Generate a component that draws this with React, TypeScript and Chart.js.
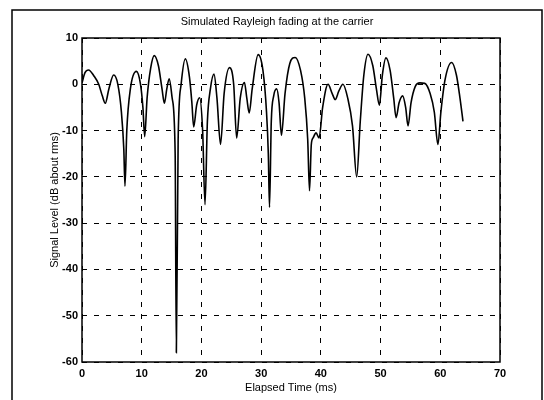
import React, { useEffect, useRef } from "react";
import { Chart, registerables } from "chart.js";

Chart.register(...registerables);

const TITLE = "Simulated Rayleigh fading at the carrier";
const X_LABEL = "Elapsed Time (ms)";
const Y_LABEL = "Signal Level (dB about rms)";
const X_MIN = 0;
const X_MAX = 70;
const Y_MIN = -60;
const Y_MAX = 10;
const STEP = 10;

const times = [
  0, 0.5, 1.1, 2.0, 2.8, 3.4, 3.9, 4.5, 5.3, 6.0, 6.6, 7.0, 7.2, 7.5, 8.1, 9.1, 9.8, 10.2, 10.5, 10.9,
  11.5, 12.1, 12.8, 13.4, 13.8, 14.2, 14.6, 15.1, 15.6, 15.8, 16.1, 16.6, 17.3, 18.0, 18.4, 18.7, 19.2, 19.7,
  20.2, 20.6, 21.0, 21.5, 22.1, 22.6, 23.2, 23.8, 24.7, 25.4, 25.9, 26.5, 27.2, 27.6, 28.0, 28.5, 29.5,
  30.3, 30.9, 31.2, 31.4, 31.7, 32.1, 32.6, 33.0, 33.4, 34.0, 34.8, 35.7, 36.6, 37.3, 37.8, 38.1, 38.4,
  38.7, 39.2, 39.7, 40.3, 41.2, 41.9, 42.4, 43.0, 43.7, 44.5, 45.3, 46.0, 46.6, 47.2, 47.9, 48.7, 49.3,
  49.8, 50.3, 50.9, 51.6, 52.2, 52.6, 53.1, 53.7, 54.2, 54.6, 55.1, 55.8, 56.6, 57.4, 58.3, 59.0, 59.6,
  60.1, 60.8, 61.9, 62.7, 63.3, 63.8,
];

const levels = [
  0.3, 2.5, 3.1, 1.8, 0, -2.5, -4.1, -1, 2.0, 0, -6, -14, -22, -10, -1, 2.8, 0, -5, -11.3, -3,
  3.5, 6.2, 4, -1, -4.1, -1, 1.2, -3, -15, -58, -12, 0, 5.5, 1.5, -4, -9.2, -4.5, -2.9,
  -10, -26, -8, -1, 2.2, -3, -13, -2, 3.6, 0, -11.6, -3, 0.4, -3, -6.2, -1, 6.4,
  3, -6, -15, -26.6, -8, -2.5, -1, -4, -11, -2, 4.5, 5.8, 3, -3, -12, -23, -13,
  -11.6, -10.5, -11.6, -5, 0, -2, -3.3, -1.5, 0, -3, -9, -20, -8, 2, 6.5, 4, -1,
  -4.5, 2, 5.7, 3, -3, -7.2, -4, -2.5, -5, -9, -4, -0.5, 0.3, 0.2, -2, -6, -13,
  -6, 1, 4.7, 2, -3, -8,
];

const FONT_FAMILY = "'Liberation Sans', Arial, sans-serif";

const framePlugin = {
  id: "frame",
  afterDraw(chart: any) {
    const { ctx, chartArea } = chart;
    ctx.save();
    ctx.strokeStyle = "#000";
    ctx.lineWidth = 1.5;
    ctx.setLineDash([]);
    ctx.strokeRect(chartArea.left, chartArea.top, chartArea.right - chartArea.left, chartArea.bottom - chartArea.top);
    ctx.beginPath();
    ctx.moveTo(12, 400);
    ctx.lineTo(12, 10);
    ctx.lineTo(542, 10);
    ctx.lineTo(542, 400);
    ctx.stroke();
    ctx.fillStyle = "#000";
    ctx.font = `11px ${FONT_FAMILY}`;
    ctx.textAlign = "center";
    ctx.textBaseline = "middle";
    ctx.fillText(TITLE, 277, 22);
    ctx.restore();
  },
};

export default function App() {
  const ref = useRef<HTMLCanvasElement | null>(null);

  useEffect(() => {
    if (!ref.current) return;
    const points = times.map((t, i) => ({ x: t, y: levels[i] }));
    const tickFont = { family: FONT_FAMILY, size: 11, weight: "bold" as const };
    const chart = new Chart(ref.current, {
      type: "line",
      data: {
        datasets: [
          {
            data: points,
            borderColor: "#000",
            borderWidth: 1.6,
            pointRadius: 0,
            fill: false,
            cubicInterpolationMode: "monotone",
          },
        ],
      },
      options: {
        responsive: false,
        animation: false,
        devicePixelRatio: 1,
        layout: { padding: { left: 12, right: 44, top: 38, bottom: 0 } },
        plugins: { legend: { display: false }, tooltip: { enabled: false }, title: { display: false } },
        scales: {
          x: {
            type: "linear",
            min: X_MIN,
            max: X_MAX,
            border: { display: false, dash: [5, 7] },
            grid: { color: "#000", lineWidth: 1, drawTicks: false },
            ticks: { stepSize: STEP, color: "#000", font: tickFont, padding: 5, maxRotation: 0 },
            title: {
              display: true,
              text: X_LABEL,
              color: "#000",
              font: { family: FONT_FAMILY, size: 11 },
              padding: { top: 0, bottom: 5 },
            },
            afterFit: (s: any) => {
              s.height = 38;
            },
          } as any,
          y: {
            type: "linear",
            min: Y_MIN,
            max: Y_MAX,
            border: { display: false, dash: [5, 7] },
            grid: { color: "#000", lineWidth: 1, drawTicks: false },
            ticks: { stepSize: STEP, color: "#000", font: tickFont, padding: 4 },
            title: {
              display: true,
              text: Y_LABEL,
              color: "#000",
              font: { family: FONT_FAMILY, size: 11 },
              padding: { top: 36, bottom: 0 },
            },
            afterFit: (s: any) => {
              s.width = 70;
            },
          } as any,
        },
      },
      plugins: [framePlugin],
    });
    return () => chart.destroy();
  }, []);

  return (
    <div style={{ position: "fixed", left: 0, top: 0, width: 544, height: 400, background: "#fff" }}>
      <canvas ref={ref} width={544} height={400} style={{ width: 544, height: 400, display: "block" }} />
    </div>
  );
}
